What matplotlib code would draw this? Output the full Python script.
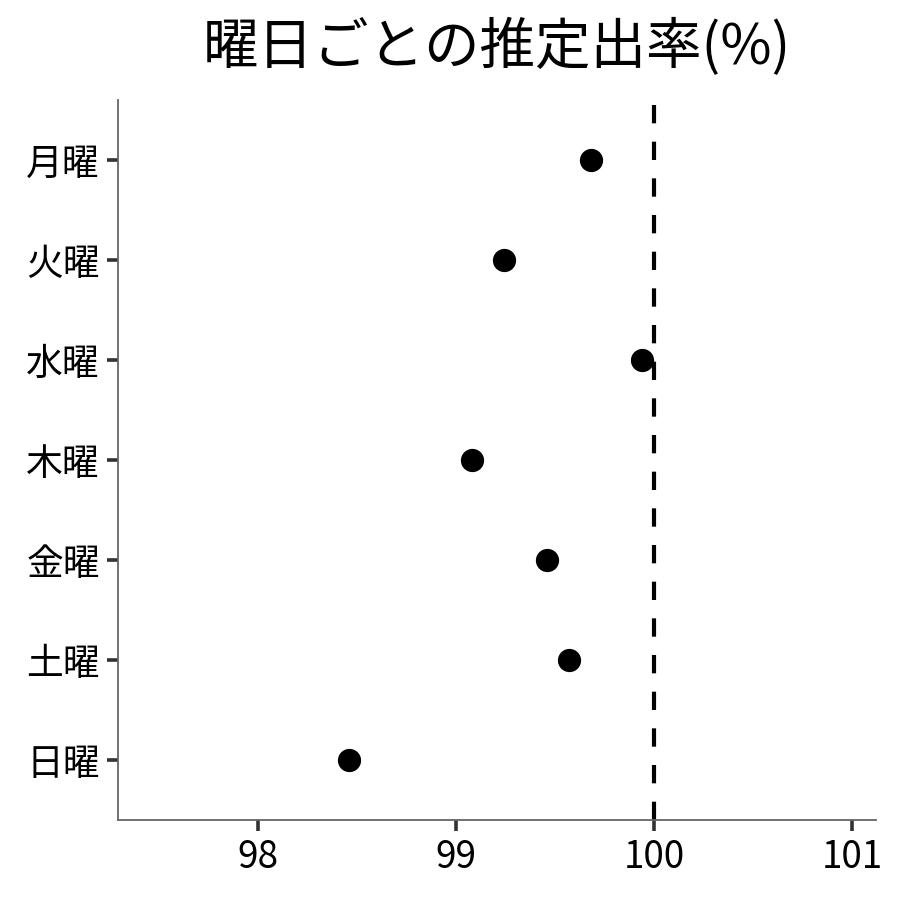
import numpy as np
import matplotlib
matplotlib.use('Agg')
import matplotlib.pyplot as plt

plt.rcParams['font.family'] = ['Noto Sans CJK JP', 'DejaVu Sans']

days = ['月曜', '火曜', '水曜', '木曜', '金曜', '土曜', '日曜']
rates = [99.68, 99.24, 99.94, 99.08, 99.46, 99.57, 98.46]
xticks = [98, 99, 100, 101]
ref_line = 100

fig = plt.figure(figsize=(9, 9), dpi=100)
ax = fig.add_axes([0.131, 0.089, 0.842, 0.8])

ypos = np.arange(len(days))
ax.scatter(rates, ypos, s=280, color='black', zorder=3, linewidths=0)
ax.axvline(ref_line, color='black', lw=3, dashes=(4.4, 4.4), zorder=2)

ax.set_yticks(ypos)
ax.set_yticklabels(days)
ax.set_xticks(xticks)
ax.set_xlim(97.29, 101.12)
ax.set_ylim(6.6, -0.6)

for side in ['top', 'right']:
    ax.spines[side].set_visible(False)
for side in ['left', 'bottom']:
    ax.spines[side].set_color('#666666')
    ax.spines[side].set_linewidth(1.3)
ax.tick_params(axis='both', length=8, width=2.6, color='#333333',
               labelsize=26.5, labelcolor='black', pad=5)

ax.set_title('曜日ごとの推定出率(%)', fontsize=40, pad=26)

fig.savefig('out.png', dpi=100, facecolor='white')
